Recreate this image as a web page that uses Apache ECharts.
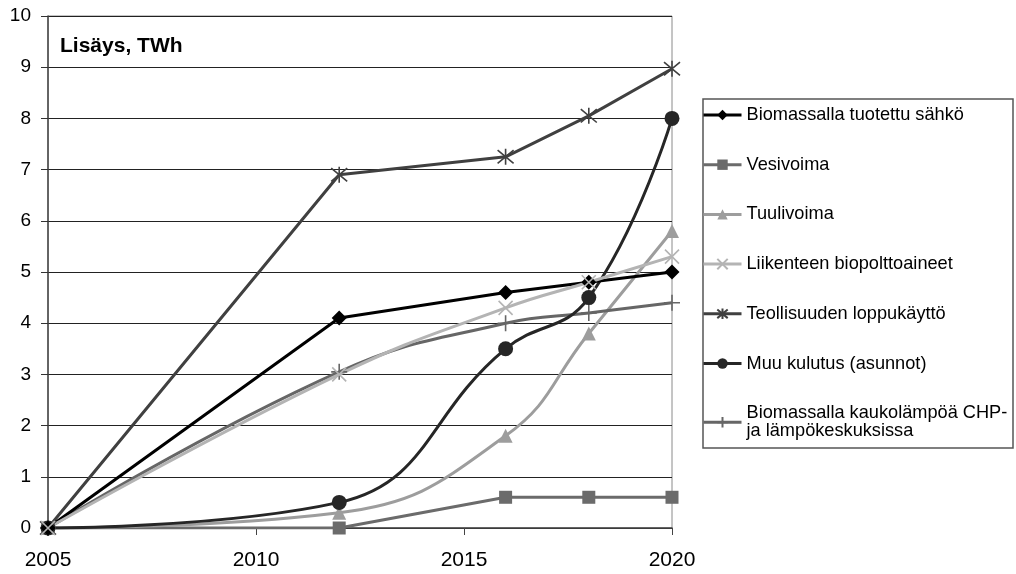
<!DOCTYPE html>
<html>
<head>
<meta charset="utf-8">
<style>
  html, body { margin: 0; padding: 0; background: #fff; }
  #chart { width: 1016px; height: 574px; }
</style>
<script src="https://cdn.jsdelivr.net/npm/echarts@6/dist/echarts.min.js"></script>
</head>
<body>
<div id="chart"></div>
<script>
// Vuodet, joille arviot on annettu
const years = [2005, 2012, 2016, 2018, 2020];

// Lisäys (TWh) sarjoittain
const biomassaSahko = [0, 4.1, 4.6, 4.8, 5.0];
const vesivoima     = [0, 0, 0.6, 0.6, 0.6];
const tuulivoima    = [0, 0.3, 1.8, 3.8, 5.8];
const liikenne      = [0, 3.0, 4.3, 4.8, 5.3];
const teollisuus    = [0, 6.9, 7.25, 8.05, 8.97];
const muuKulutus    = [0, 0.5, 3.5, 4.5, 8.0];
const kaukolampo    = [0, 3.05, 4.0, 4.2, 4.4];

const seriesNames = [
  'Biomassalla tuotettu sähkö',
  'Vesivoima',
  'Tuulivoima',
  'Liikenteen biopolttoaineet',
  'Teollisuuden loppukäyttö',
  'Muu kulutus (asunnot)',
  'Biomassalla kaukolämpöä CHP- ja lämpökeskuksissa'
];

const FONT = 'Liberation Sans, Arial, Helvetica, sans-serif';

// Viivamerkit (piirretään reunaviivalla)
const CROSS = 'path://M0,0L10,10M10,0L0,10';
const STAR = 'path://M0,0L10,10M10,0L0,10M5,-1L5,11';
const PLUS = 'path://M5,0L5,10M0,5L10,5';

const pairs = vals => years.map((y, i) => [y, vals[i]]);

function lineSeries(name, vals, color, symbol, size, smooth, stroke) {
  return {
    name: name,
    type: 'line',
    data: pairs(vals),
    smooth: smooth,
    symbol: symbol,
    symbolSize: size,
    showSymbol: true,
    lineStyle: { color: color, width: 3 },
    itemStyle: stroke
      ? { color: 'rgba(0,0,0,0)', borderColor: color, borderWidth: 1.6 }
      : { color: color, borderWidth: 0 },
    emphasis: { disabled: true },
    animation: false
  };
}

const chart = echarts.init(document.getElementById('chart'));
chart.setOption({
  animation: false,
  backgroundColor: '#fff',
  title: {
    text: 'Lisäys, TWh',
    left: 60,
    top: 36,
    padding: 0,
    textStyle: { fontFamily: FONT, fontSize: 21, fontWeight: 'bold', color: '#000' }
  },
  grid: {
    left: 48, top: 16, width: 624, height: 512,
    show: true, borderColor: '#8a8a8a', borderWidth: 1
  },
  xAxis: {
    type: 'value',
    min: 2005, max: 2020, interval: 5,
    axisLine: { show: true, lineStyle: { color: '#444', width: 1.5 } },
    axisTick: { show: true, length: 7, lineStyle: { color: '#444' } },
    axisLabel: {
      fontFamily: FONT, fontSize: 21, color: '#000', margin: 22,
      formatter: v => String(v)
    },
    splitLine: { show: false }
  },
  yAxis: {
    type: 'value',
    min: 0, max: 10, interval: 1,
    axisLine: { show: true, lineStyle: { color: '#444', width: 1.5 } },
    axisTick: { show: true, length: 7, lineStyle: { color: '#333' } },
    axisLabel: { fontFamily: FONT, fontSize: 19, color: '#000', margin: 17 },
    splitLine: { show: true, lineStyle: { color: '#222', width: 1 } }
  },
  legend: {
    orient: 'vertical',
    left: 702,
    top: 106,
    padding: 0,
    itemWidth: 38,
    itemHeight: 13,
    itemGap: 31.7,
    selectedMode: false,
    lineStyle: { width: 3 },
    textStyle: { fontFamily: FONT, fontSize: 18.2, color: '#000', lineHeight: 18 },
    formatter: name => name.replace('CHP- ', 'CHP-\n'),
    data: seriesNames
  },
  graphic: [{
    type: 'rect',
    shape: { x: 703, y: 99, width: 310, height: 349 },
    style: { fill: 'none', stroke: '#555', lineWidth: 1.5 },
    silent: true,
    z: -1
  }],
  series: [
    lineSeries(seriesNames[1], vesivoima, '#6b6b6b', 'rect', 13, false, false),
    lineSeries(seriesNames[2], tuulivoima, '#9d9d9d', 'triangle', 14, 0.45, false),
    lineSeries(seriesNames[6], kaukolampo, '#666', PLUS, 16, 0.45, true),
    lineSeries(seriesNames[5], muuKulutus, '#262626', 'circle', 15, 0.45, false),
    lineSeries(seriesNames[4], teollisuus, '#404040', STAR, 16, false, true),
    lineSeries(seriesNames[0], biomassaSahko, '#000', 'diamond', 15, false, false),
    lineSeries(seriesNames[3], liikenne, '#b4b4b4', CROSS, 14, 0.45, true)
  ]
});
</script>
</body>
</html>
